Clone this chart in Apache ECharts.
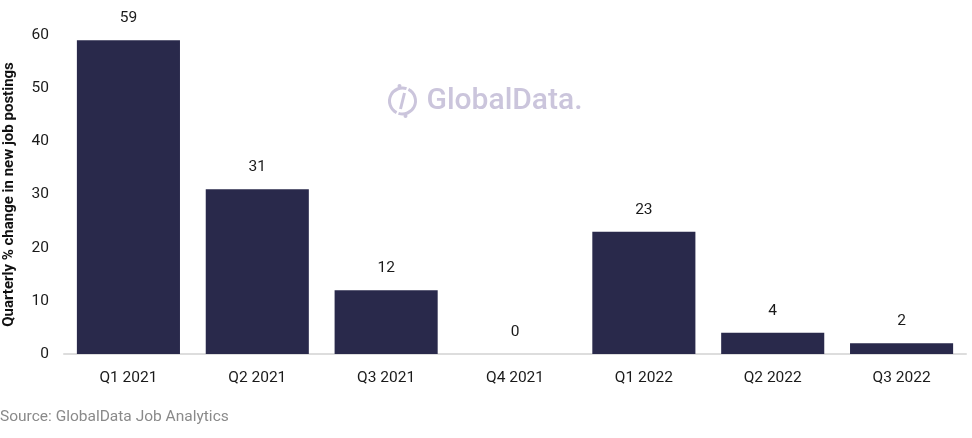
<!DOCTYPE html>
<html>
<head>
<meta charset="utf-8">
<script src="https://cdn.jsdelivr.net/npm/echarts@6/dist/echarts.min.js"></script>
<style>html,body{margin:0;padding:0;background:#fff;}#c{width:972px;height:438px;}</style>
</head>
<body>
<div id="c"></div>
<script>
const categories = ['Q1 2021','Q2 2021','Q3 2021','Q4 2021','Q1 2022','Q2 2022','Q3 2022'];
const values = [59, 31, 12, 0, 23, 4, 2];
const yTicks = [0, 10, 20, 30, 40, 50, 60];

const chart = echarts.init(document.getElementById('c'));
const font = 'Roboto, "Liberation Sans", Arial, sans-serif';
chart.setOption({
  animation: false,
  grid: {left: 64, right: 6, top: 35, bottom: 84, containLabel: false, outerBoundsMode: 'none'},
  graphic: [
    {type: 'text', left: 0, top: 409, style: {text: 'Source: GlobalData Job Analytics', fill: '#8a8a8a', font: '15.5px ' + font}},
    {type: 'group', left: 387, top: 84, children: [
      {type: 'arc', shape: {cx: 15, cy: 17, r: 13, startAngle: -Math.PI*0.35, endAngle: Math.PI*0.6}, style: {stroke: '#cbc5dc', lineWidth: 3, fill: null}},
      {type: 'arc', shape: {cx: 15, cy: 17, r: 13, startAngle: Math.PI*0.65, endAngle: Math.PI*1.6}, style: {stroke: '#cbc5dc', lineWidth: 3, fill: null}},
      {type: 'line', shape: {x1: 17, y1: 9, x2: 13, y2: 25}, style: {stroke: '#cbc5dc', lineWidth: 3}},
      {type: 'circle', shape: {cx: 12, cy: 2, r: 2}, style: {fill: '#cbc5dc'}},
      {type: 'circle', shape: {cx: 18, cy: 32, r: 2}, style: {fill: '#cbc5dc'}},
      {type: 'text', x: 39, y: 2, style: {text: 'GlobalData.', fill: '#cbc5dc', font: '500 30px ' + font}}
    ]}
  ],
  xAxis: {
    type: 'category',
    data: categories,
    axisLine: {show: true, lineStyle: {color: '#dddddd', width: 2}},
    axisTick: {show: false},
    axisLabel: {color: '#1a1a1a', fontSize: 15.5, fontFamily: font, margin: 16}
  },
  yAxis: {
    type: 'value',
    min: 0, max: 60, interval: 10,
    name: 'Quarterly % change in new job postings',
    nameLocation: 'middle',
    nameGap: 47,
    nameTextStyle: {color: '#111', fontSize: 15, fontWeight: 'bold', fontFamily: font},
    splitLine: {show: false},
    axisLine: {show: false},
    axisTick: {show: false},
    axisLabel: {color: '#1a1a1a', fontSize: 15.5, fontFamily: font, margin: 15,
      formatter: v => yTicks.includes(v) ? String(v) : ''}
  },
  series: [{
    type: 'bar',
    data: values,
    barCategoryGap: '20%',
    itemStyle: {color: '#29294b'},
    label: {show: true, position: 'top', distance: 14, color: '#1a1a1a', fontSize: 15.5, fontFamily: font}
  }]
});
</script>
</body>
</html>
